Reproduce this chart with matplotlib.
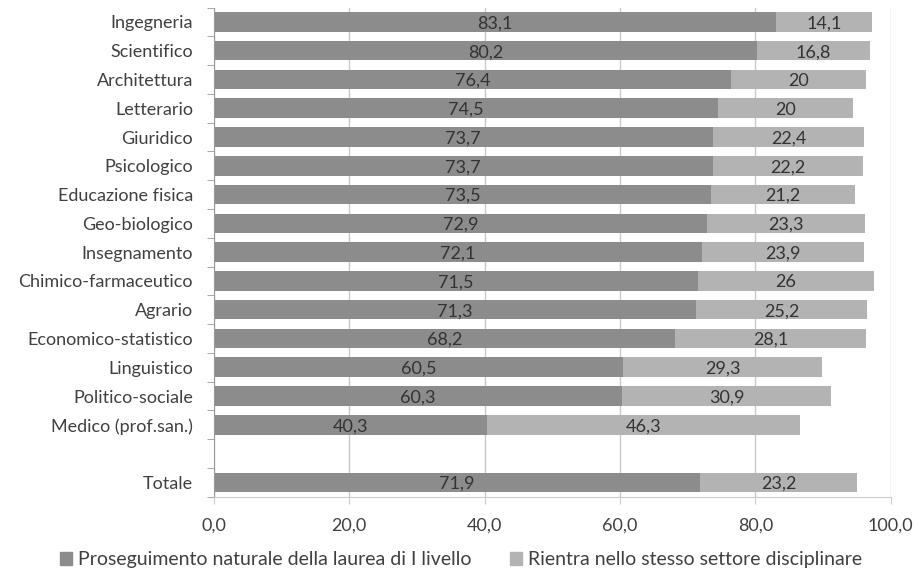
import matplotlib
matplotlib.use("Agg")
import matplotlib.pyplot as plt
from matplotlib.patches import Patch
from matplotlib.ticker import FixedLocator
import numpy as np

plt.rcParams['font.family'] = ['Lato', 'DejaVu Sans']

# data
categories = ["Ingegneria", "Scientifico", "Architettura", "Letterario", "Giuridico",
              "Psicologico", "Educazione fisica", "Geo-biologico", "Insegnamento",
              "Chimico-farmaceutico", "Agrario", "Economico-statistico", "Linguistico",
              "Politico-sociale", "Medico (prof.san.)", "", "Totale"]
proseguimento = [83.1, 80.2, 76.4, 74.5, 73.7, 73.7, 73.5, 72.9, 72.1, 71.5, 71.3, 68.2,
                 60.5, 60.3, 40.3, None, 71.9]
rientra = [14.1, 16.8, 20, 20, 22.4, 22.2, 21.2, 23.3, 23.9, 26, 25.2, 28.1,
           29.3, 30.9, 46.3, None, 23.2]
series_names = ["Proseguimento naturale della laurea di I livello",
                "Rientra nello stesso settore disciplinare"]
xticks = [0, 20, 40, 60, 80, 100]

dark = '#8c8c8c'
light = '#b3b3b3'
txt = '#404040'


def fmt(v):
    # Excel style: integers without decimals, else comma decimal
    if float(v).is_integer():
        return str(int(v))
    return ("%.1f" % v).replace('.', ',')


fig = plt.figure(figsize=(9.22, 5.79), dpi=100)
ax = fig.add_axes([0.232, 0.142, 0.734, 0.845])

ypos = [i for i, v in enumerate(proseguimento) if v is not None]
p1 = [proseguimento[i] for i in ypos]
p2 = [rientra[i] for i in ypos]

ax.barh(ypos, p1, height=0.68, color=dark, zorder=2)
ax.barh(ypos, p2, left=p1, height=0.68, color=light, zorder=2)

for y, a, b in zip(ypos, p1, p2):
    ax.text(a / 2, y + 0.05, fmt(a), ha='center', va='center', fontsize=13, color='#333333', zorder=3)
    ax.text(a + b / 2, y + 0.05, fmt(b), ha='center', va='center', fontsize=13, color='#333333', zorder=3)

ax.set_xlim(0, 100)
ax.set_ylim(len(categories) - 0.5, -0.5)
ax.set_xticks(xticks)
ax.set_xticklabels([("%.1f" % t).replace('.', ',') for t in xticks], fontsize=13, color=txt)
ax.set_yticks(range(len(categories)))
ax.set_yticklabels(categories, fontsize=13, color=txt)
ax.tick_params(axis='y', length=0, pad=15)
ax.yaxis.set_minor_locator(FixedLocator(np.arange(-0.5, len(categories), 1)))
ax.tick_params(axis='y', which='minor', length=5, color='#999999', direction='out')
ax.tick_params(axis='x', length=5, color='#cccccc', pad=10)

ax.grid(axis='x', color='#c8c8c8', linewidth=1, zorder=0)
for s in ['top', 'right']:
    ax.spines[s].set_visible(False)
ax.spines['left'].set_color('#999999')
ax.spines['bottom'].set_color('#cccccc')

handles = [Patch(color=dark), Patch(color=light)]
fig.legend(handles, series_names, loc='center', bbox_to_anchor=(0.5, 0.033), ncol=2,
           frameon=False, fontsize=14, handlelength=0.6, handleheight=0.6,
           handletextpad=0.3, columnspacing=2, labelcolor=txt)

fig.savefig('out.png', dpi=100)
